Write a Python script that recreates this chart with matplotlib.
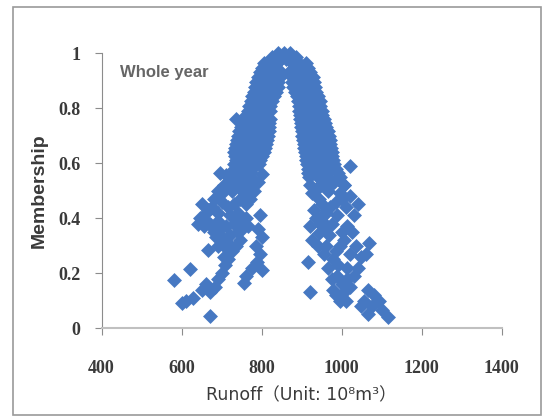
import matplotlib
matplotlib.use('Agg')
import matplotlib.pyplot as plt
from matplotlib.font_manager import FontProperties
from matplotlib.patches import Rectangle

# ---- data: runoff (10^8 m^3) vs membership degree ----
# left limb of the bell
runoff_left = [840, 855, 870,
               825, 840, 832, 848,
               805, 822, 838,
               802, 818, 835,
               795, 812, 830, 848,
               792, 808, 828, 845,
               787, 805, 825, 842,
               784, 802, 822, 840,
               780, 798, 818, 836,
               776, 795, 812, 830,
               773, 792, 810, 826,
               768, 788, 806, 822,
               765, 785, 805, 822,
               762, 785, 808,
               736, 760, 782, 802, 820,
               752, 775, 798, 819,
               748, 770, 795, 818,
               744, 768, 793, 818,
               740, 765, 790, 815,
               738, 762, 788, 813,
               735, 760, 785, 811,
               733, 758, 783, 808,
               732, 755, 780, 805,
               733, 756, 780, 800,
               735, 758, 782, 797,
               730, 755, 778, 793,
               730, 752, 775,
               729, 751, 774,
               728, 750, 772,
               740, 765]
member_left = [1.00, 1.00, 1.00,
               0.985, 0.985, 0.9775, 0.9775,
               0.963, 0.963, 0.963,
               0.945, 0.945, 0.945,
               0.93, 0.93, 0.93, 0.93,
               0.912, 0.912, 0.912, 0.912,
               0.895, 0.895, 0.895, 0.895,
               0.877, 0.877, 0.877, 0.877,
               0.86, 0.86, 0.86, 0.86,
               0.842, 0.842, 0.842, 0.842,
               0.825, 0.825, 0.825, 0.825,
               0.807, 0.807, 0.807, 0.807,
               0.79, 0.79, 0.79, 0.79,
               0.775, 0.775, 0.775,
               0.76, 0.76, 0.76, 0.76, 0.76,
               0.745, 0.745, 0.745, 0.745,
               0.73, 0.73, 0.73, 0.73,
               0.715, 0.715, 0.715, 0.715,
               0.70, 0.70, 0.70, 0.70,
               0.685, 0.685, 0.685, 0.685,
               0.67, 0.67, 0.67, 0.67,
               0.655, 0.655, 0.655, 0.655,
               0.64, 0.64, 0.64, 0.64,
               0.625, 0.625, 0.625, 0.625,
               0.61, 0.61, 0.61, 0.61,
               0.595, 0.595, 0.595, 0.595,
               0.58, 0.58, 0.58,
               0.565, 0.565, 0.565,
               0.55, 0.55, 0.55,
               0.52, 0.52]

# right limb of the bell
runoff_right = [870, 885, 862, 877,
                875, 893, 912,
                880, 898, 915,
                868, 885, 903, 922,
                875, 895, 915, 928,
                875, 892, 910, 930,
                878, 895, 913, 933,
                883, 900, 918, 936,
                888, 903, 920, 940,
                890, 906, 924, 945,
                893, 908, 926, 947,
                894, 910, 928, 950,
                896, 912, 930, 952,
                897, 914, 932, 955,
                898, 916, 936, 958,
                899, 918, 938, 962,
                900, 920, 940, 965,
                902, 922, 943, 968,
                904, 924, 946, 970,
                906, 926, 948, 972,
                907, 928, 950, 974,
                908, 930, 952, 975,
                910, 932, 954, 976,
                912, 934, 956, 978,
                913, 936, 958, 982,
                915, 938, 960, 985,
                916, 940, 962, 990,
                918, 942, 965, 995,
                920, 945, 972, 1005]
member_right = [0.985, 0.985, 0.9775, 0.9775,
                0.963, 0.963, 0.963,
                0.945, 0.945, 0.945,
                0.93, 0.93, 0.93, 0.93,
                0.912, 0.912, 0.912, 0.912,
                0.895, 0.895, 0.895, 0.895,
                0.877, 0.877, 0.877, 0.877,
                0.86, 0.86, 0.86, 0.86,
                0.842, 0.842, 0.842, 0.842,
                0.825, 0.825, 0.825, 0.825,
                0.807, 0.807, 0.807, 0.807,
                0.79, 0.79, 0.79, 0.79,
                0.775, 0.775, 0.775, 0.775,
                0.76, 0.76, 0.76, 0.76,
                0.745, 0.745, 0.745, 0.745,
                0.73, 0.73, 0.73, 0.73,
                0.715, 0.715, 0.715, 0.715,
                0.70, 0.70, 0.70, 0.70,
                0.685, 0.685, 0.685, 0.685,
                0.67, 0.67, 0.67, 0.67,
                0.655, 0.655, 0.655, 0.655,
                0.64, 0.64, 0.64, 0.64,
                0.625, 0.625, 0.625, 0.625,
                0.61, 0.61, 0.61, 0.61,
                0.595, 0.595, 0.595, 0.595,
                0.58, 0.58, 0.58, 0.58,
                0.565, 0.565, 0.565, 0.565,
                0.55, 0.55, 0.55, 0.55,
                0.52, 0.52, 0.52, 0.52]

# scattered low-membership years, dry side
runoff_dry = [580, 600, 612, 622, 628, 645, 655, 660, 670, 665, 671,
              650, 660, 672, 683, 690, 700, 708, 715, 705,
              675, 690, 700, 715, 720, 730, 710, 695, 720, 740,
              745, 735, 685, 750, 740, 730, 745, 755, 760, 770,
              697, 702, 725, 718, 735, 780, 790, 770, 800,
              797, 790, 800, 785, 795, 788, 800, 755, 760, 775,
              662, 680, 712, 748, 765, 725, 705,
              640, 650, 665, 680, 690, 705, 712, 728, 745, 755,
              760, 765, 750, 735, 690, 680, 700, 715, 725, 690]
member_dry = [0.175, 0.09, 0.10, 0.215, 0.11, 0.40, 0.37, 0.39, 0.38, 0.285, 0.045,
              0.14, 0.16, 0.13, 0.15, 0.18, 0.20, 0.23, 0.25, 0.26,
              0.44, 0.42, 0.46, 0.44, 0.41, 0.38, 0.37, 0.36, 0.34, 0.35,
              0.32, 0.30, 0.33, 0.39, 0.42, 0.45, 0.47, 0.49, 0.45, 0.47,
              0.565, 0.49, 0.50, 0.52, 0.53, 0.50, 0.53, 0.55, 0.56,
              0.41, 0.36, 0.33, 0.30, 0.27, 0.24, 0.21, 0.165, 0.19, 0.22,
              0.42, 0.35, 0.29, 0.52, 0.51, 0.56, 0.51,
              0.38, 0.45, 0.43, 0.47, 0.50, 0.52, 0.555, 0.54, 0.545, 0.53,
              0.40, 0.37, 0.36, 0.40, 0.39, 0.36, 0.33, 0.31, 0.28, 0.30]

# scattered low-membership years, wet side
runoff_wet = [1022, 1022, 1005, 995, 916, 921, 927, 944, 962, 953,
              970, 944, 927, 935, 920, 958, 975, 979, 988, 979,
              1005, 1014, 1014, 1022, 1005, 1014, 988, 995, 990, 1000,
              1068, 1048, 1040, 1031, 1066, 1057, 1075, 1092, 1101, 1116,
              1066, 1048, 1080, 1060, 1040, 1010, 985, 965, 955, 940,
              930, 950, 968, 985, 1000,
              960, 980, 1000, 1030, 1025, 1035, 950, 960, 945, 940,
              955, 965, 975, 995, 1010, 1020, 985]
member_wet = [0.59, 0.48, 0.52, 0.49, 0.24, 0.13, 0.32, 0.345, 0.30, 0.41,
              0.44, 0.47, 0.49, 0.40, 0.37, 0.36, 0.38, 0.25, 0.19, 0.14,
              0.13, 0.18, 0.22, 0.27, 0.32, 0.37, 0.41, 0.30, 0.23, 0.16,
              0.31, 0.26, 0.22, 0.19, 0.14, 0.10, 0.08, 0.10, 0.067, 0.04,
              0.05, 0.08, 0.12, 0.27, 0.45, 0.44, 0.46, 0.50, 0.53, 0.51,
              0.43, 0.39, 0.34, 0.28, 0.35,
              0.55, 0.53, 0.47, 0.41, 0.35, 0.30, 0.45, 0.42, 0.38, 0.30,
              0.27, 0.22, 0.18, 0.10, 0.10, 0.15, 0.12]

x_ticks = [400, 600, 800, 1000, 1200, 1400]
y_ticks = [0, 0.2, 0.4, 0.6, 0.8, 1]
y_ticklabels = ['0', '0.2', '0.4', '0.6', '0.8', '1']

blue = '#4678C2'

fig = plt.figure(figsize=(5.46, 4.17), dpi=100)
fig.patch.set_facecolor('white')
ax = fig.add_axes([0.186, 0.2134, 0.733, 0.6594])

for xs, ys in [(runoff_left, member_left), (runoff_right, member_right),
               (runoff_dry, member_dry), (runoff_wet, member_wet)]:
    ax.scatter(xs, ys, marker='D', s=58, color=blue, linewidths=0, clip_on=False)

ax.set_xlim(400, 1400)
ax.set_ylim(0, 1)
ax.set_xticks(x_ticks)
ax.set_yticks(y_ticks)
ax.set_yticklabels(y_ticklabels)

for side in ['top', 'right']:
    ax.spines[side].set_visible(False)
ax.spines['left'].set_color('#8c8c8c')
ax.spines['bottom'].set_color('#c0c0c0')
ax.spines['bottom'].set_linewidth(1.5)

tick_font = FontProperties(family='Liberation Serif', weight='bold', size=13)
ax.tick_params(axis='both', direction='out', length=5, colors='#8c8c8c',
               labelcolor='#3a3a3a')
ax.tick_params(axis='y', pad=10)
ax.tick_params(axis='x', pad=18)
for lab in ax.get_xticklabels() + ax.get_yticklabels():
    lab.set_fontproperties(tick_font)

ax.set_ylabel('Membership', fontsize=14, fontweight='bold', color='#3a3a3a',
              family='Liberation Sans', labelpad=8)
ax.set_xlabel('Runoff（Unit: 10⁸m³）', fontsize=12.5, color='#3a3a3a',
              family=['DejaVu Sans', 'Noto Sans CJK SC'], labelpad=7)

ax.text(446, 0.93, 'Whole year', fontsize=12, fontweight='bold', color='#666666',
        family='Liberation Sans', va='center', ha='left')

# outer chart frame
fig.patches.append(Rectangle((0.024, 0.005), 0.967, 0.978, transform=fig.transFigure,
                             fill=False, edgecolor='#9a9a9a', linewidth=1.2))

fig.savefig('out.png', dpi=100)
